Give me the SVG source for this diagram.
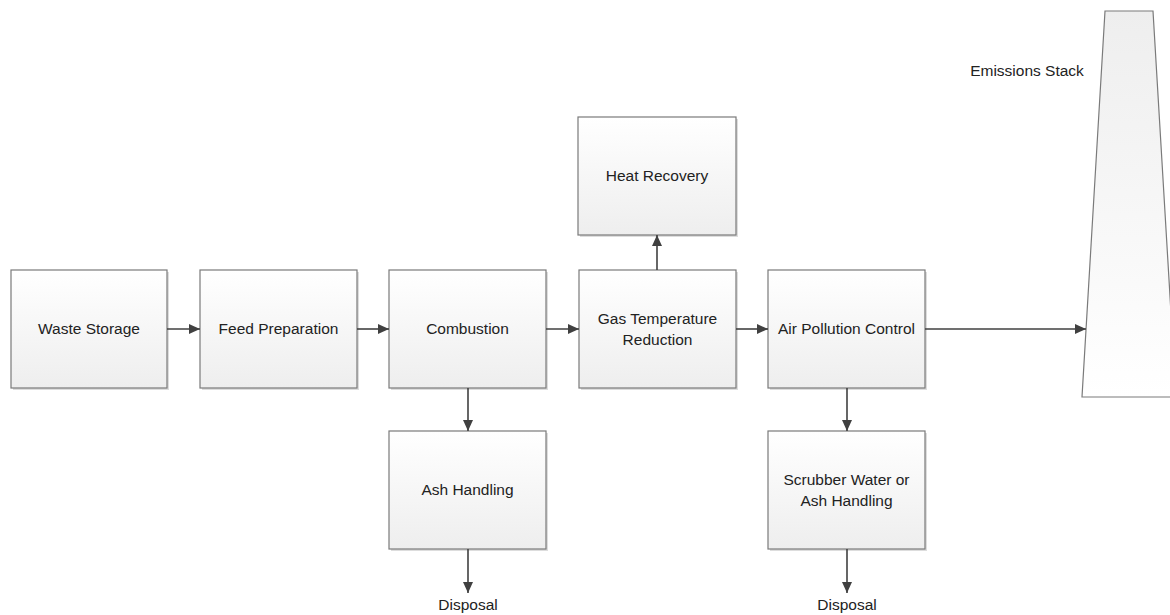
<svg xmlns="http://www.w3.org/2000/svg" width="1170" height="615" viewBox="0 0 1170 615">
<style>
.box{fill:url(#boxg);stroke:#7a7a7a;stroke-width:1.2}
.shadow{fill:#dddddd}
.lbl{font-family:"Liberation Sans",Arial,sans-serif;font-size:15.5px;fill:#222;text-anchor:middle}
.conn{stroke:#404040;stroke-width:1.6;fill:none;marker-end:url(#arr)}
</style>
<defs>
<linearGradient id="boxg" x1="0" y1="0" x2="0" y2="1">
<stop offset="0" stop-color="#ffffff"/>
<stop offset="1" stop-color="#eeeeee"/>
</linearGradient>
<linearGradient id="stackg" x1="0" y1="0" x2="0" y2="1">
<stop offset="0" stop-color="#eeeeee"/>
<stop offset="1" stop-color="#ffffff"/>
</linearGradient>
<marker id="arr" markerUnits="userSpaceOnUse" markerWidth="11" markerHeight="10" refX="11" refY="5" orient="auto">
<path d="M0,0 L11,5 L0,10 z" fill="#404040"/>
</marker>
</defs>
<g id="waste-storage">
<rect class="shadow" x="13" y="272" width="156" height="118"/>
<rect class="box" x="11" y="270" width="156" height="118"/>
<text class="lbl" x="89" y="334">Waste Storage</text>
</g>
<g id="feed-preparation">
<rect class="shadow" x="202" y="272" width="157" height="118"/>
<rect class="box" x="200" y="270" width="157" height="118"/>
<text class="lbl" x="278.5" y="334">Feed Preparation</text>
</g>
<g id="combustion">
<rect class="shadow" x="391" y="272" width="157" height="118"/>
<rect class="box" x="389" y="270" width="157" height="118"/>
<text class="lbl" x="467.5" y="334">Combustion</text>
</g>
<g id="gas-temperature-reduction">
<rect class="shadow" x="581" y="272" width="157" height="118"/>
<rect class="box" x="579" y="270" width="157" height="118"/>
<text class="lbl" x="657.5" y="324">Gas Temperature</text>
<text class="lbl" x="657.5" y="345">Reduction</text>
</g>
<g id="heat-recovery">
<rect class="shadow" x="580" y="119" width="158" height="118"/>
<rect class="box" x="578" y="117" width="158" height="118"/>
<text class="lbl" x="657" y="181">Heat Recovery</text>
</g>
<g id="air-pollution-control">
<rect class="shadow" x="770" y="272" width="157" height="118"/>
<rect class="box" x="768" y="270" width="157" height="118"/>
<text class="lbl" x="846.5" y="334">Air Pollution Control</text>
</g>
<g id="ash-handling">
<rect class="shadow" x="391" y="433" width="157" height="118"/>
<rect class="box" x="389" y="431" width="157" height="118"/>
<text class="lbl" x="467.5" y="495">Ash Handling</text>
</g>
<g id="scrubber-water">
<rect class="shadow" x="770" y="433" width="157" height="118"/>
<rect class="box" x="768" y="431" width="157" height="118"/>
<text class="lbl" x="846.5" y="485">Scrubber Water or</text>
<text class="lbl" x="846.5" y="506">Ash Handling</text>
</g>
<g id="emissions-stack">
<path d="M1105,11 L1153,11 L1176,397 L1082,397 Z" fill="url(#stackg)" stroke="#7a7a7a" stroke-width="1.2"/>
<text class="lbl" x="1027" y="76">Emissions Stack</text>
</g>
<g id="disposal-1">
<text class="lbl" x="468" y="610">Disposal</text>
</g>
<g id="disposal-2">
<text class="lbl" x="847" y="610">Disposal</text>
</g>
<g id="connectors">
<line class="conn" x1="167" y1="329" x2="200" y2="329"/>
<line class="conn" x1="357" y1="329" x2="389" y2="329"/>
<line class="conn" x1="546" y1="329" x2="579" y2="329"/>
<line class="conn" x1="736" y1="329" x2="768" y2="329"/>
<line class="conn" x1="925" y1="329" x2="1086" y2="329"/>
<line class="conn" x1="657" y1="270" x2="657" y2="235"/>
<line class="conn" x1="468" y1="388" x2="468" y2="431"/>
<line class="conn" x1="468" y1="549" x2="468" y2="593"/>
<line class="conn" x1="847" y1="388" x2="847" y2="431"/>
<line class="conn" x1="847" y1="549" x2="847" y2="593"/>
</g>
</svg>
